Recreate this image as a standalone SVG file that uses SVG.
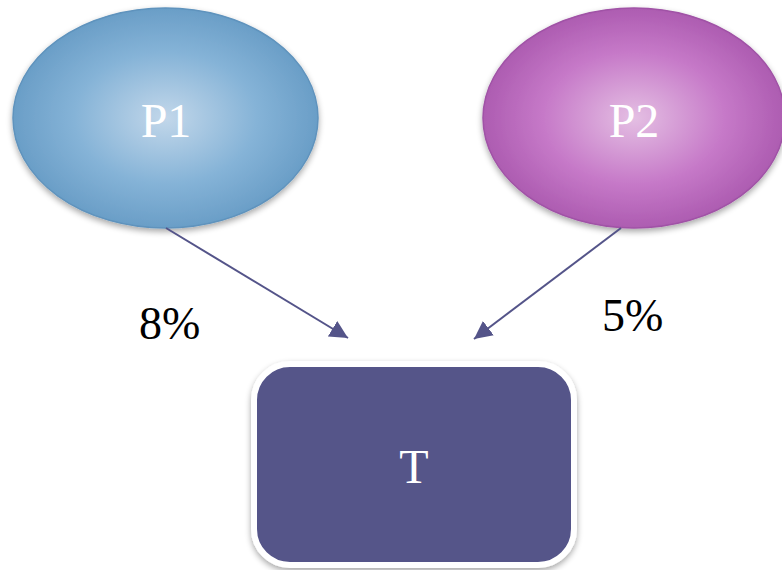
<svg xmlns="http://www.w3.org/2000/svg" width="782" height="570" viewBox="0 0 782 570">
<defs>
<radialGradient id="gBlue" cx="50%" cy="50%" r="50%">
<stop offset="0" stop-color="#c2d7ea"/>
<stop offset="0.6" stop-color="#85b3d7"/>
<stop offset="1" stop-color="#6a9ec7"/>
</radialGradient>
<radialGradient id="gPurple" cx="50%" cy="50%" r="50%">
<stop offset="0" stop-color="#e4bfe3"/>
<stop offset="0.6" stop-color="#c679c8"/>
<stop offset="1" stop-color="#ad5cb1"/>
</radialGradient>
<filter id="sh" x="-10%" y="-10%" width="120%" height="130%">
<feGaussianBlur in="SourceAlpha" stdDeviation="3"/>
<feOffset dy="3" result="b"/>
<feComponentTransfer><feFuncA type="linear" slope="0.35"/></feComponentTransfer>
<feMerge><feMergeNode/><feMergeNode in="SourceGraphic"/></feMerge>
</filter>
<marker id="arr" viewBox="0 0 10 10" refX="10" refY="5" markerWidth="18" markerHeight="18" markerUnits="userSpaceOnUse" orient="auto">
<path d="M0,0 L10,5 L0,10 z" fill="#545489"/>
</marker>
</defs>
<style>
.lbl{font-family:"Liberation Serif","Times New Roman",serif;fill:#ffffff;font-size:48px;text-anchor:middle}
.pct{font-family:"Liberation Serif","Times New Roman",serif;fill:#000000;font-size:46px}
.conn{stroke:#545489;stroke-width:2;fill:none}
</style>
<rect width="782" height="570" fill="#ffffff"/>
<g id="P1">
<ellipse cx="165.5" cy="118" rx="152.5" ry="110" fill="url(#gBlue)" stroke="#5f93bd" stroke-width="1.5" filter="url(#sh)"/>
<text class="lbl" x="166" y="137">P1</text>
</g>
<g id="P2">
<ellipse cx="634" cy="118" rx="151" ry="110" fill="url(#gPurple)" stroke="#a052a6" stroke-width="1.5" filter="url(#sh)"/>
<text class="lbl" x="634" y="137">P2</text>
</g>
<g id="T">
<rect x="254" y="364" width="320" height="201" rx="36" ry="36" fill="#545489" stroke="#ffffff" stroke-width="6" filter="url(#sh)"/>
<text class="lbl" x="414" y="483">T</text>
</g>
<g id="connectors">
<line class="conn" x1="166" y1="228" x2="348" y2="338" marker-end="url(#arr)"/>
<line class="conn" x1="621" y1="228" x2="474" y2="339" marker-end="url(#arr)"/>
</g>
<g id="labels">
<text class="pct" x="139" y="339">8%</text>
<text class="pct" x="602" y="331">5%</text>
</g>
</svg>
